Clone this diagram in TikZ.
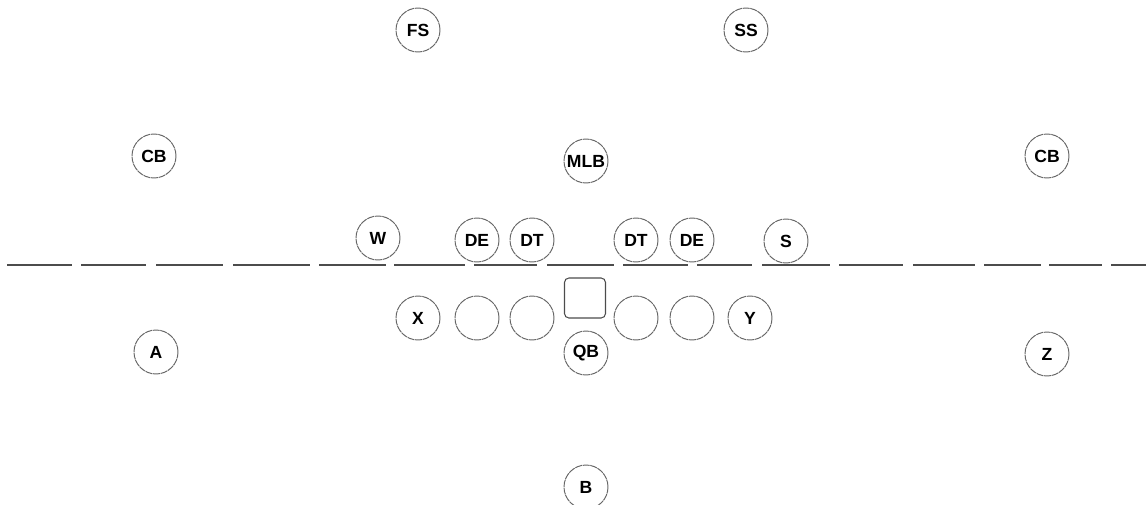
\documentclass[tikz,border=0pt]{standalone}
\usepackage{fontspec}
\setmainfont{Liberation Sans}
\tikzset{player/.style={circle, draw=black!60, dash pattern=on 4pt off 0.4pt,
                        line width=0.55pt, minimum size=0.88cm, inner sep=0pt,
                        font=\bfseries\fontsize{10}{12}\selectfont},
         center/.style={rectangle, rounded corners=2.5pt, draw=black!70,
                        solid, line width=0.6pt, minimum width=0.82cm,
                        minimum height=0.8cm, inner sep=0pt}}

\begin{document}
\begin{tikzpicture}[x=0.02cm, y=-0.02cm, every node/.style={player}]
      \useasboundingbox (0, 0) rectangle (1146, 504);

      % defense
      \draw node (fs) at (418, 30) {FS};
      \draw node (ss) at (746, 30) {SS};
      \draw node (cbl) at (154, 156) {CB};
      \draw node (cbr) at (1047, 156) {CB};
      \draw node (mlb) at (586, 161) {MLB};
      \draw node (w) at (378, 238) {W};
      \draw node (del) at (477, 240) {DE};
      \draw node (dtl) at (532, 240) {DT};
      \draw node (dtr) at (636, 240) {DT};
      \draw node (der) at (692, 240) {DE};
      \draw node (s) at (786, 241) {S};

      % line of scrimmage
      \foreach \a/\b in {7/72, 81/146, 156/223, 233/310, 319/386, 394/465,
                         474/537, 547/614, 623/688, 697/752, 762/830, 839/903,
                         913/975, 984/1041, 1049/1102, 1111/1146}
        \draw[line width=1.2pt, black!70] (\a, 265) -- (\b, 265);

      % offense
      \draw node (x) at (418, 318) {X};
      \draw node (lt) at (477, 318) {};
      \draw node (lg) at (532, 318) {};
      \draw node[center] (c) at (585, 298) {};
      \draw node (rg) at (636, 318) {};
      \draw node (rt) at (692, 318) {};
      \draw node (y) at (750, 318) {Y};
      \draw node (a) at (156, 352) {A};
      \draw node (z) at (1047, 354) {Z};
      \draw node (qb) at (586, 353) {QB};
      \draw node (b) at (586, 487) {B};
    \end{tikzpicture}
\end{document}
